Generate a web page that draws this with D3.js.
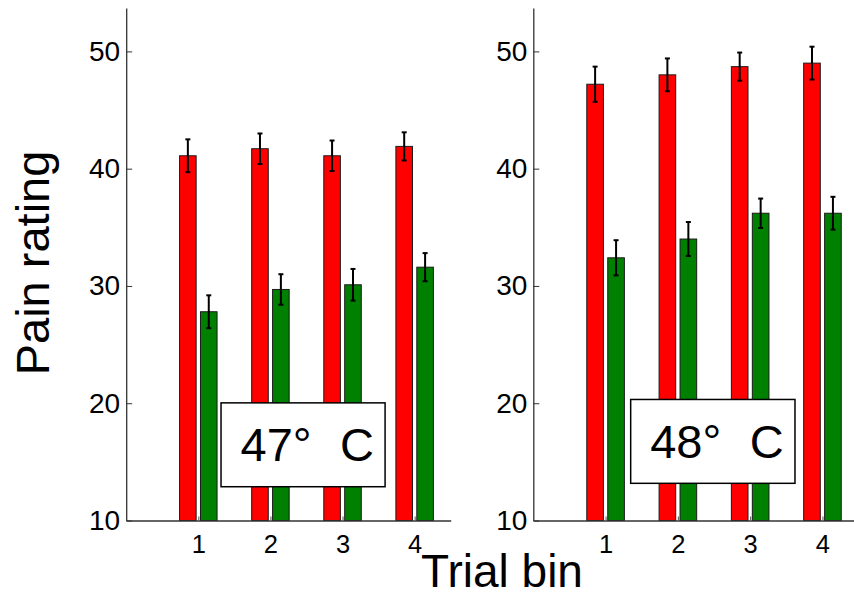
<!DOCTYPE html>
<html>
<head>
<meta charset="utf-8">
<script src="https://cdn.jsdelivr.net/npm/d3@7"></script>
<style>
  html, body { margin: 0; padding: 0; background: #fff; }
  svg { display: block; font-family: "Liberation Sans", Arial, Helvetica, sans-serif; }
</style>
</head>
<body>
<svg id="chart" width="854" height="596"></svg>
<script>
// Trial bins on the x axis
const bins = [1, 2, 3, 4];
const yTicks = [10, 20, 30, 40, 50];

// 47 °C condition: mean pain rating and standard error per bin
const red47 = [41.1, 41.7, 41.1, 41.9];
const red47Err = [1.4, 1.3, 1.3, 1.2];
const green47 = [27.8, 29.7, 30.1, 31.6];
const green47Err = [1.4, 1.3, 1.35, 1.2];

// 48 °C condition
const red48 = [47.2, 48.0, 48.7, 49.0];
const red48Err = [1.5, 1.4, 1.2, 1.4];
const green48 = [32.4, 34.0, 36.2, 36.2];
const green48Err = [1.5, 1.45, 1.25, 1.4];

const panelTitles = ["47°", "48°"];

const svg = d3.select("#chart");

const yRange = [520.5, 8];
const panels = [
  { xr: [126.2, 450.7], red: red47, redErr: red47Err, green: green47, greenErr: green47Err,
    title: panelTitles[0], box: [1.315, 3.59, 20.03, 12.88] },
  { xr: [533.3, 858.6], red: red48, redErr: red48Err, green: green48, greenErr: green48Err,
    title: panelTitles[1], box: [1.347, 3.62, 20.32, 13.17] }
];

const barW = 0.23, off = 0.145;

panels.forEach(p => {
  const x = d3.scaleLinear().domain([0, 4.5]).range(p.xr);
  const y = d3.scaleLinear().domain([10, 53.7]).range(yRange);
  const g = svg.append("g");

  const series = [
    { vals: p.red, errs: p.redErr, color: "#ff0000", dx: -off },
    { vals: p.green, errs: p.greenErr, color: "#008000", dx: off }
  ];

  series.forEach(s => {
    g.selectAll(null).data(bins).enter().append("rect")
      .attr("x", (d) => x(d + s.dx - barW / 2))
      .attr("width", x(barW) - x(0))
      .attr("y", (d, i) => y(s.vals[i]))
      .attr("height", (d, i) => y(10) - y(s.vals[i]))
      .attr("fill", s.color)
      .attr("stroke", "#1a1a1a")
      .attr("stroke-width", 1);
  });

  series.forEach(s => {
    const eg = g.selectAll(null).data(bins).enter().append("g")
      .attr("stroke", "#000").attr("stroke-width", 2);
    eg.append("line")
      .attr("x1", d => x(d + s.dx)).attr("x2", d => x(d + s.dx))
      .attr("y1", (d, i) => y(s.vals[i] - s.errs[i]))
      .attr("y2", (d, i) => y(s.vals[i] + s.errs[i]));
    [-1, 1].forEach(sign => {
      eg.append("line")
        .attr("x1", d => x(d + s.dx) - 2.5).attr("x2", d => x(d + s.dx) + 2.5)
        .attr("y1", (d, i) => y(s.vals[i] + sign * s.errs[i]))
        .attr("y2", (d, i) => y(s.vals[i] + sign * s.errs[i]));
    });
  });

  // axes
  const ya = g.append("g").attr("transform", `translate(${p.xr[0]},0)`)
    .call(d3.axisLeft(y).tickValues(yTicks).tickSize(-6).tickPadding(6).tickSizeOuter(0));
  ya.select(".domain").attr("stroke", "#333").attr("stroke-width", 1.3);
  ya.selectAll(".tick line").attr("stroke", "#333");
  ya.selectAll("text").attr("font-size", 28).attr("fill", "#000");
  ya.attr("font-family", null).attr("font-size", null);

  const xa = g.append("g").attr("transform", `translate(0,${yRange[0]})`)
    .call(d3.axisBottom(x).tickValues(bins).tickFormat(d3.format("d"))
      .tickSize(-4).tickPadding(14).tickSizeOuter(0));
  xa.select(".domain").attr("stroke", "#333").attr("stroke-width", 1.3);
  xa.selectAll(".tick line").attr("stroke", "#555");
  xa.selectAll("text").attr("font-size", 25.5).attr("fill", "#000");
  xa.attr("font-family", null).attr("font-size", null);

  // temperature label box
  const [bx0, bx1, by0, by1] = p.box;
  g.append("rect")
    .attr("x", x(bx0)).attr("y", y(by0))
    .attr("width", x(bx1) - x(bx0)).attr("height", y(by1) - y(by0))
    .attr("fill", "#fff").attr("stroke", "#000").attr("stroke-width", 1.5);
  const t = g.append("text")
    .attr("y", y(by1) - (y(by1) - y(by0)) * 0.305)
    .attr("font-size", 47).attr("fill", "#000");
  t.append("tspan").attr("x", x(bx0) + 19.5).text(p.title);
  t.append("tspan").attr("x", x(bx0) + 119).text("C");
});

svg.append("text")
  .attr("transform", "translate(49,263) rotate(-90)")
  .attr("text-anchor", "middle").attr("font-size", 47).text("Pain rating");

svg.append("text")
  .attr("x", 502).attr("y", 587)
  .attr("text-anchor", "middle").attr("font-size", 46).text("Trial bin");
</script>
</body>
</html>
